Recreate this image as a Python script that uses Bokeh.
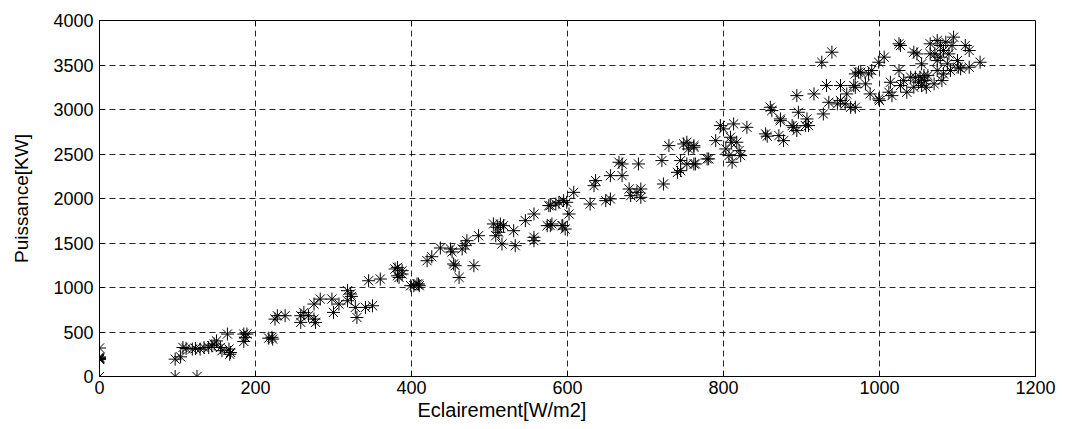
import math
from bokeh.plotting import figure
from bokeh.models import Range1d, FixedTicker, Title
from bokeh.embed import file_html
from bokeh.resources import INLINE

x_ticks = [0, 200, 400, 600, 800, 1000, 1200]
y_ticks = [0, 500, 1000, 1500, 2000, 2500, 3000, 3500, 4000]

eclairement = [
    0, 0, 0, 0, 0, 0, 0,
    97, 125, 97, 104, 111, 107, 119, 123, 129, 134, 140, 144, 147, 150, 155, 157, 164, 166, 168, 167,
    185, 187, 185, 189, 217, 221, 222, 225, 228, 238, 258, 258, 262, 268, 275, 275, 277, 283, 298,
    300, 307, 318, 322, 323, 318, 328, 330, 341, 350, 345, 360, 379, 382, 382, 388, 388, 384, 399,
    407, 410, 403, 409,
    420, 426, 437, 450, 452, 465, 469, 471, 486, 454, 456, 461, 480, 505, 510, 514, 518, 512, 508,
    531, 516, 533, 546, 557, 557, 557, 574, 580, 593, 597, 578, 585, 589, 595, 599, 602, 576, 594,
    578, 608, 629, 636, 634, 649, 655, 655, 666, 670, 670, 679, 681, 689, 694, 691, 694, 723, 721,
    730, 741, 745, 749, 753, 755, 762, 762, 779, 762, 781, 764, 753, 745,
    796, 790, 800, 813, 830, 803, 809, 810, 817, 820, 822, 807, 811, 854, 856, 871, 877, 860, 862,
    873, 888, 890, 894, 896, 905, 907, 909, 894, 916, 926, 939, 928, 935, 932, 946, 950, 950, 956,
    963, 967, 969, 969, 958, 873, 976,
    969, 973, 982, 986, 990, 988, 999, 1000, 999, 1006, 1014, 1012, 1016, 1025, 1027, 1027, 1031,
    1035, 1040, 1044, 1048, 1050, 1054, 1054, 1057, 1058, 1060, 1065, 1070, 1071, 1074, 1074, 1078,
    1078, 1080, 1082, 1085, 1087, 1089, 1091, 1093, 1095, 1100, 1101, 1104, 1110, 1115, 1115, 1129,
    1082, 1062, 1052, 1046, 1074, 1044, 1065, 1025,
]

puissance = [
    0, 190, 200, 205, 210, 220, 320,
    0, 0, 195, 221, 315, 326, 308, 315, 308, 325, 326, 345, 365, 400, 326, 290, 477, 308, 270, 250,
    477, 440, 394, 477, 431, 440, 420, 645, 683, 683, 683, 608, 720, 683, 814, 645, 608, 870, 870,
    720, 814, 964, 927, 900, 851, 776, 663, 776, 795, 1076, 1095, 1208, 1132, 1226, 1189, 1151, 1113, 1020,
    1039, 1020, 1020, 1039,
    1301, 1346, 1444, 1433, 1400, 1433, 1470, 1526, 1582, 1264, 1245, 1113, 1245, 1714, 1676, 1714, 1695, 1620, 1582,
    1638, 1489, 1470, 1751, 1826, 1564, 1526, 1695, 1714, 1695, 1657, 1920, 1938, 1957, 1976, 1957, 1826, 1920, 1695,
    1695, 2069, 1938, 2201, 2144, 1976, 1995, 2257, 2407, 2388, 2257, 2107, 2032, 2069, 2107, 2388, 2013, 2163, 2426,
    2594, 2294, 2426, 2613, 2632, 2557, 2594, 2388, 2445, 2576, 2445, 2388, 2388, 2313,
    2819, 2650, 2782, 2838, 2800, 2557, 2688, 2632, 2632, 2538, 2482, 2482, 2407, 2726, 2700, 2707, 2650, 3025, 2988,
    2875, 2819, 2800, 2763, 2969, 2819, 2894, 2819, 3156, 3175, 3531, 3644, 2950, 3081, 3269, 3063, 3269, 3100, 3063,
    3025, 3269, 3400, 3025, 3175, 2894, 3419,
    3250, 3419, 3288, 3400, 3438, 3175, 3119, 3100, 3531, 3588, 3306, 3194, 3156, 3438, 3719, 3269, 3325,
    3194, 3363, 3644, 3625, 3306, 3513, 3269, 3381, 3325, 3250, 3738, 3288, 3625, 3775, 3550, 3719,
    3588, 3325, 3663, 3756, 3513, 3625, 3438, 3719, 3813, 3550, 3475, 3457, 3719, 3663, 3475, 3531,
    3400, 3381, 3363, 3363, 3438, 3250, 3625, 3738,
]

FONT = "Liberation Sans"
X_MIN, X_MAX = 0, 1200
Y_MIN, Y_MAX = 0, 4000

p = figure(
    width=1065, height=429,
    frame_width=936, frame_height=356,
    min_border_left=99, min_border_right=30, min_border_top=20, min_border_bottom=53,
    x_range=Range1d(X_MIN, X_MAX), y_range=Range1d(Y_MIN, Y_MAX),
    output_backend="svg", toolbar_location=None,
)
p.background_fill_color = "white"
p.border_fill_color = "white"
p.outline_line_color = "black"
p.outline_line_width = 1

p.xaxis.ticker = FixedTicker(ticks=x_ticks)
p.yaxis.ticker = FixedTicker(ticks=y_ticks)
p.xgrid.ticker = FixedTicker(ticks=x_ticks)
p.ygrid.ticker = FixedTicker(ticks=y_ticks)

for g in (p.xgrid, p.ygrid):
    g.grid_line_color = "black"
    g.grid_line_dash = "6 4"
    g.grid_line_width = 1
    g.grid_line_alpha = 0.85

p.scatter(eclairement, puissance, marker="asterisk", size=13,
          line_color="black", line_width=1)

# inward tick marks on the top and right edges (box style)
p.ray(x=x_ticks, y=[Y_MAX] * len(x_ticks), length=5, length_units="screen",
      angle=-math.pi / 2, line_color="black", line_width=1)
p.ray(x=[X_MAX] * len(y_ticks), y=y_ticks, length=5, length_units="screen",
      angle=math.pi, line_color="black", line_width=1)

p.yaxis.axis_label = "Puissance[KW]"

for ax in (p.xaxis[0], p.yaxis[0]):
    ax.axis_line_color = "black"
    ax.major_tick_in = 5
    ax.major_tick_out = 0
    ax.minor_tick_line_color = None
    ax.major_tick_line_color = "black"
    ax.major_label_text_font = FONT
    ax.major_label_text_font_size = "18px"
    ax.major_label_text_color = "black"
    ax.axis_label_text_font = FONT
    ax.axis_label_text_font_size = "19px"
    ax.axis_label_text_font_style = "normal"
    ax.axis_label_text_color = "black"

p.yaxis.major_label_standoff = 6
p.yaxis.axis_label_standoff = 18
p.xaxis.major_label_standoff = 4

xlabel = Title(text="Eclairement[W/m2]", align="left", offset=318, standoff=0,
               text_font=FONT, text_font_size="20px", text_font_style="normal",
               text_color="black")
p.add_layout(xlabel, "below")

open("out.html", "w").write(file_html(p, INLINE))
